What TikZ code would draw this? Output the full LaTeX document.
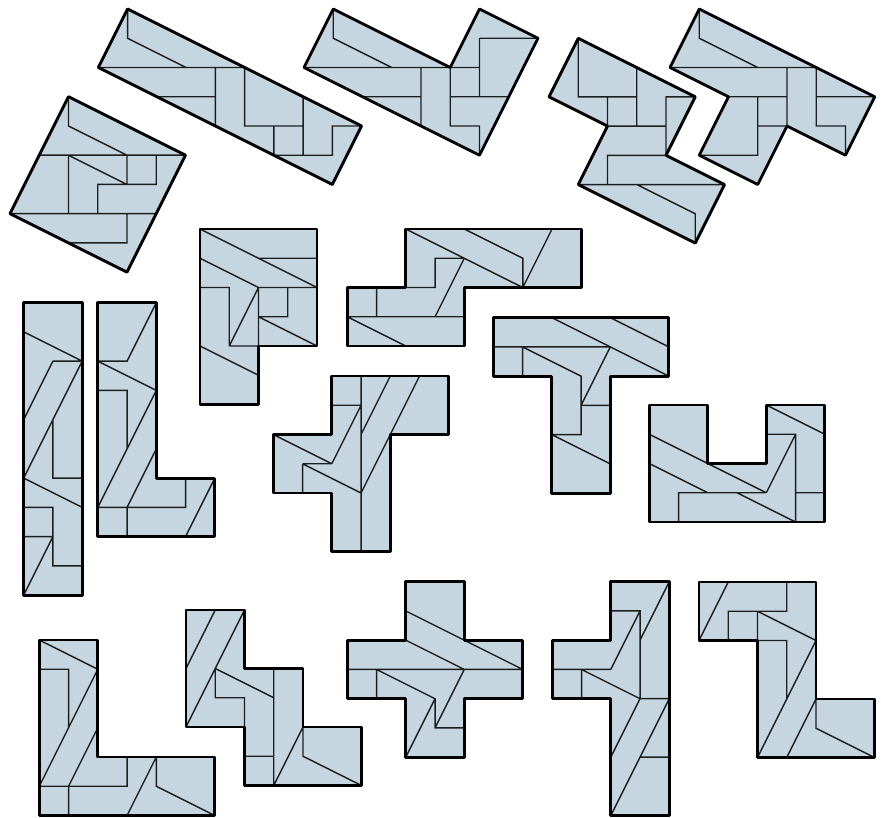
\documentclass[tikz,border=0pt]{standalone}
\usepackage{tikz}
\definecolor{tileblue}{RGB}{197,214,225}
\definecolor{cutgray}{RGB}{30,30,30}
\tikzset{
 tilefill/.style={fill=tileblue},
 tileedge/.style={draw=black, line width=1.4pt, line join=round},
 tilecut/.style={draw=cutgray, line width=0.7pt, line join=miter}
}
\newcommand{\tile}[4]{%
 \begin{scope}[shift={(#1/29.25,#2/29.25)}]
  \fill[tilefill] #3 -- cycle;
  \draw[tilecut] #4;
  \draw[tileedge] #3 -- cycle;
 \end{scope}}
\begin{document}
\begin{tikzpicture}[x=0.5cm,y=-0.5cm]
 \useasboundingbox (0,0) rectangle (881/29.25,817/29.25);
 \tile{10}{96.7}{(2,0) -- (6,2) -- (4,6) -- (0,4)}
  {(2,0) -- (2,1) -- (4,2) (1,2) -- (6,2) (2,2) -- (2,4) (2,2) -- (4,3) (4,2) -- (4,3)
   (5,2) -- (5,3) -- (3,3) -- (3,4) (0,4) -- (5,4) (4,4) -- (4,5) -- (2,5)}
 \tile{98.3}{9}{(1,0) -- (9,4) -- (8,6) -- (0,2)}
  {(1,0) -- (1,1) -- (3,2) (0,2) -- (5,2) (4,2) -- (4,4) (5,2) -- (5,4) -- (7,4)
   (2,3) -- (4,3) (7,3) -- (7,5) (6,4) -- (6,5) (6,5) -- (8,5) -- (8,4) -- (9,4)}
 \tile{304}{9}{(1,0) -- (5,2) -- (6,0) -- (8,1) -- (6,5) -- (0,2)}
  {(1,0) -- (1,1) -- (3,2) (0,2) -- (6,2) (6,1) -- (8,1) (6,1) -- (6,3) (4,2) -- (4,4)
   (5,2) -- (5,4) -- (6,4) -- (6,5) (2,3) -- (4,3) (5,3) -- (7,3)}
 \tile{549}{38.3}{(1,0) -- (5,2) -- (4,4) -- (6,5) -- (5,7) -- (1,5) -- (2,3) -- (0,2)}
  {(1,0) -- (1,2) -- (3,2) (3,1) -- (3,3) (2,2) -- (2,3) (2,3) -- (4,3) (5,2) -- (4,2) -- (4,4)
   (4,4) -- (2,4) -- (2,5) (1,5) -- (6,5) (3,5) -- (5,6) -- (5,7)}
 \tile{670}{9}{(1,0) -- (7,3) -- (6,5) -- (4,4) -- (3,6) -- (1,5) -- (2,3) -- (0,2)}
  {(1,0) -- (1,1) -- (3,2) (0,2) -- (5,2) (4,2) -- (4,4) (5,2) -- (5,4) -- (6,4) -- (6,5)
   (5,3) -- (7,3) (2,3) -- (4,3) (3,3) -- (3,5) -- (1,5) (3,4) -- (4,4)}
 \tile{200}{229}{(0,0) -- (4,0) -- (4,4) -- (2,4) -- (2,6) -- (0,6)}
  {(0,0) -- (4,2) (2,1) -- (4,1) (0,1) -- (2,2) (2,2) -- (4,2) (0,2) -- (1,2) -- (1,4)
   (1,4) -- (2,2) (2,2) -- (2,4) (1,4) -- (2,4) (3,2) -- (3,3) -- (2,3) (2,3) -- (4,4) (0,4) -- (2,5)}
 \tile{347.3}{229}{(2,0) -- (8,0) -- (8,2) -- (4,2) -- (4,4) -- (0,4) -- (0,2) -- (2,2)}
  {(2,0) -- (6,2) (4,0) -- (6,1) -- (6,2) (7,0) -- (6,2) (4,1) -- (3,1) -- (3,2) -- (2,2)
   (4,1) -- (3,3) (1,2) -- (1,3) (0,3) -- (4,3) (0,3) -- (2,4)}
 \tile{493.3}{317.7}{(0,0) -- (6,0) -- (6,2) -- (4,2) -- (4,6) -- (2,6) -- (2,2) -- (0,2)}
  {(2,0) -- (6,2) (4,0) -- (6,1) (0,1) -- (4,1) (1,1) -- (1,2) (1,1) -- (3,2) -- (3,4) -- (2,4)
   (4,1) -- (3,3) (3,3) -- (4,3) (2,4) -- (4,5)}
 \tile{649.3}{405}{(0,0) -- (2,0) -- (2,2) -- (4,2) -- (4,0) -- (6,0) -- (6,4) -- (0,4)}
  {(0,1) -- (4,3) (0,2) -- (2,3) (1,4) -- (1,3) -- (4,3) (4,0) -- (6,1) (4,1) -- (5,1) -- (5,4)
   (5,1) -- (4,3) (3,3) -- (5,4) (5,3) -- (6,3)}
 \tile{23.7}{302.6}{(0,0) -- (2,0) -- (2,10) -- (0,10)}
  {(0,1) -- (2,2) (1,2) -- (2,2) (1,2) -- (0,4) (2,2) -- (0,6) (1,4) -- (1,6) -- (2,6) (0,6) -- (2,7)
   (0,7) -- (1,7) -- (1,9) -- (2,9) (0,8) -- (1,8) (1,8) -- (0,10)}
 \tile{97.8}{302.6}{(0,0) -- (2,0) -- (2,6) -- (4,6) -- (4,8) -- (0,8)}
  {(2,0) -- (1,2) -- (0,2) (0,2) -- (2,3) (0,3) -- (1,3) -- (1,5) (2,3) -- (0,7) (2,5) -- (1,7)
   (0,7) -- (3,7) -- (3,6) (1,7) -- (1,8) (4,6) -- (3,8)}
 \tile{273.3}{376}{(2,0) -- (6,0) -- (6,2) -- (4,2) -- (4,6) -- (2,6) -- (2,4) -- (0,4) -- (0,2) -- (2,2)}
  {(3,0) -- (3,6) (2,1) -- (3,1) (3,1) -- (2,3) (0,2) -- (2,3) (1,3) -- (2,3) (1,3) -- (1,4)
   (1,3) -- (3,4) (4,0) -- (3,2) (5,0) -- (3,4)}
 \tile{39.3}{640}{(0,0) -- (2,0) -- (2,4) -- (6,4) -- (6,6) -- (0,6)}
  {(0,0) -- (2,1) (0,1) -- (1,1) -- (1,3) (2,1) -- (0,5) (2,3) -- (1,5) (0,5) -- (3,5) -- (3,4)
   (1,5) -- (1,6) (4,4) -- (3,6) (4,4) -- (4,5) -- (6,6)}
 \tile{186}{610}{(0,0) -- (2,0) -- (2,2) -- (4,2) -- (4,4) -- (6,4) -- (6,6) -- (2,6) -- (2,4) -- (0,4)}
  {(1,0) -- (0,2) (2,0) -- (0,4) (1,2) -- (3,3) (1,2) -- (1,3) -- (2,3) -- (2,4) (3,2) -- (3,6)
   (2,5) -- (3,5) (4,4) -- (3,6) (4,4) -- (4,5) -- (6,6)}
 \tile{347.3}{581.7}{(2,0) -- (4,0) -- (4,2) -- (6,2) -- (6,4) -- (4,4) -- (4,6) -- (2,6) -- (2,4) -- (0,4) -- (0,2) -- (2,2)}
  {(2,1) -- (6,3) (2,2) -- (4,3) (0,3) -- (6,3) (1,3) -- (1,4) (1,3) -- (3,4) -- (3,5) -- (4,5)
   (4,3) -- (3,5) (3,4) -- (2,6)}
 \tile{552.3}{581.7}{(2,0) -- (4,0) -- (4,8) -- (2,8) -- (2,4) -- (0,4) -- (0,2) -- (2,2)}
  {(4,0) -- (3,2) (2,1) -- (3,1) -- (3,4) (3,1) -- (2,3) (0,3) -- (2,3) (1,3) -- (1,4) (1,3) -- (3,4)
   (3,4) -- (4,4) (3,4) -- (2,6) (4,4) -- (2,8) (3,6) -- (4,6)}
 \tile{699}{582}{(0,0) -- (4,0) -- (4,4) -- (6,4) -- (6,6) -- (2,6) -- (2,2) -- (0,2)}
  {(1,0) -- (0,2) (3,0) -- (3,1) -- (1,1) -- (1,2) (2,1) -- (2,2) (2,1) -- (4,2)
   (2,2) -- (3,2) -- (3,4) (4,2) -- (2,6) (4,4) -- (3,6) (4,4) -- (4,5) -- (6,6)}
\end{tikzpicture}
\end{document}
